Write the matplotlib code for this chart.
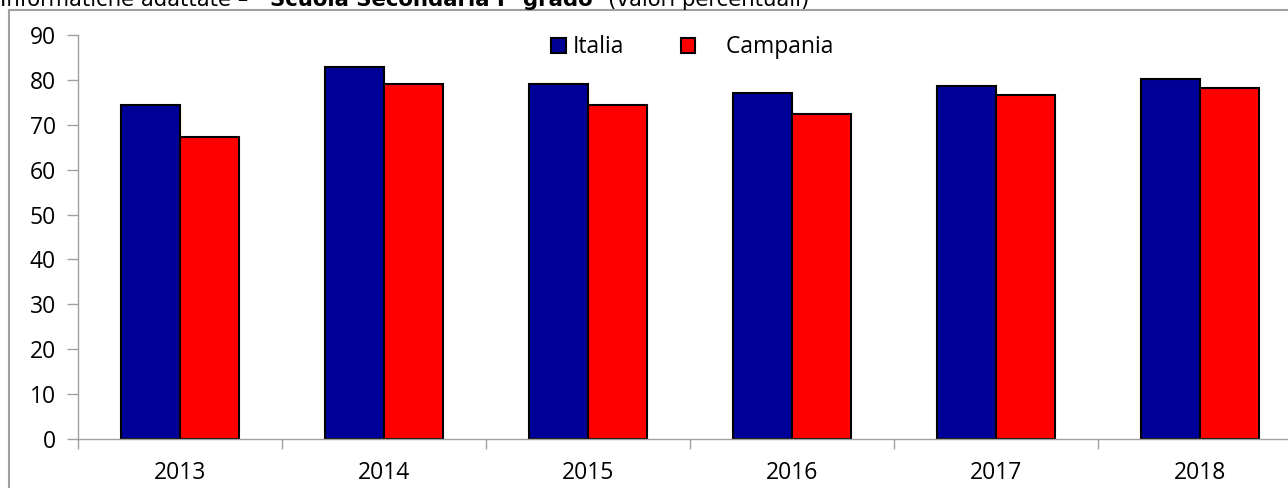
import numpy as np
import matplotlib
matplotlib.use('Agg')
import matplotlib.pyplot as plt
from matplotlib.patches import Rectangle, Patch

anni = ['2013', '2014', '2015', '2016', '2017', '2018']
italia = [74.5, 82.9, 79.1, 77.1, 78.6, 80.3]
campania = [67.3, 79.1, 74.4, 72.4, 76.7, 78.1]

col_it = '#000099'
col_ca = '#ff0000'
grigio = '#a0a0a0'

plt.rcParams['font.family'] = ['Open Sans', 'DejaVu Sans']

fig = plt.figure(figsize=(12.88, 4.88), dpi=100)
W, H = 1288.0, 488.0

# riquadro esterno (tagliato a destra e in basso)
fig.patches.append(Rectangle((9 / W, -0.1), 1.2, (488 - 10) / H + 0.1,
                             transform=fig.transFigure, fill=False,
                             edgecolor=grigio, linewidth=1.5))

# titolo tagliato in alto
ty = (H - 6) / H
fig.text(0 / W, ty, 'Informatiche adattate \u2013', fontsize=15.3,
         family='DejaVu Sans', va='baseline')
fig.text(270 / W, ty, 'Scuola Secondaria I\u00b0 grado', fontsize=15.3,
         family='DejaVu Sans', fontweight='bold', va='baseline')
fig.text(608 / W, ty, '(valori percentuali)', fontsize=15.3,
         family='DejaVu Sans', va='baseline')

ax = fig.add_axes([78 / W, 49 / H, 1224 / W, 404 / H])
ax.set_clip_on(False)

x = np.arange(len(anni))
w = 0.287
ax.bar(x - w / 2, italia, w, color=col_it, edgecolor='black', linewidth=1.5)
ax.bar(x + w / 2, campania, w, color=col_ca, edgecolor='black', linewidth=1.5)

ax.set_xlim(-0.5, len(anni) - 0.5)
ax.set_ylim(0, 90)
ax.set_yticks(range(0, 91, 10))
ax.set_xticks(x)
ax.set_xticklabels(anni)
ax.set_xticks(np.arange(-0.5, len(anni)), minor=True)
ax.tick_params(axis='x', which='major', length=0, pad=16, labelsize=16.5)
ax.tick_params(axis='x', which='minor', length=7, width=1, color=grigio, direction='out')
ax.tick_params(axis='y', length=8, width=1, color=grigio, pad=8, labelsize=16.5)

for s in ['top', 'right']:
    ax.spines[s].set_visible(False)
for s in ['left', 'bottom']:
    ax.spines[s].set_color(grigio)
    ax.spines[s].set_linewidth(1)

handles = [Patch(facecolor=col_it, edgecolor='black', linewidth=1.5),
           Patch(facecolor=col_ca, edgecolor='black', linewidth=1.5)]
ax.legend(handles, ['Italia', '    Campania'], loc='upper center',
          bbox_to_anchor=(0.502, 1.05), ncol=2, frameon=False, fontsize=16.5,
          handlelength=0.65, handleheight=0.65, handletextpad=0.3,
          columnspacing=2.45)

fig.savefig('out.png', dpi=100)
